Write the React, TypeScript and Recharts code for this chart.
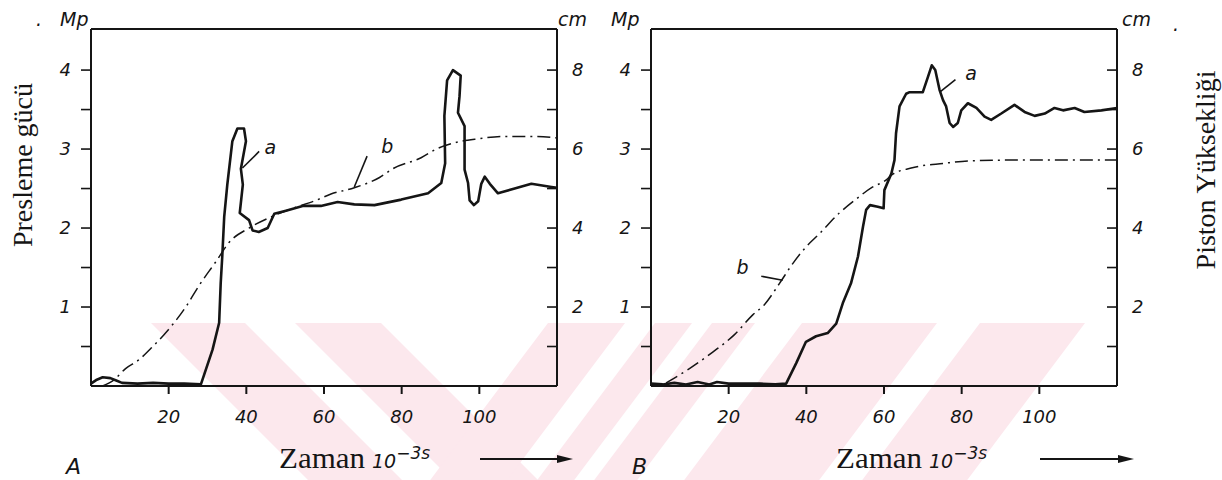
import { LineChart, Line, XAxis, YAxis, ReferenceLine, ReferenceDot } from 'recharts';

const INK = '#151515';
const SANS = "'DejaVu Sans', sans-serif";
const SERIF = "'Liberation Serif', 'Times New Roman', serif";

// Panel A: curve a = pressing force (Mp), curve b = piston height (cm)
const timeAa = [0, 1.5, 3, 5, 6.5, 8, 12, 16, 20, 24, 28.3, 31.3, 33, 33.4, 33.8, 34.3, 35.1, 36.4, 37.7, 39.4, 39.9, 38.6, 39.1, 38.3, 40.7, 41.6, 43.2, 45.5, 47.2, 50.2, 54.5, 59.2, 63.5, 67.8, 73, 79.9, 86.8, 90.2, 91.2, 91, 91.7, 93.2, 95.2, 94.9, 94.5, 96.2, 96.2, 97.1, 97.5, 98.6, 99.7, 100.5, 101.4, 102.7, 104.8, 109.1, 113.4, 118.6, 120];
const forceA = [0.03, 0.08, 0.11, 0.1, 0.07, 0.04, 0.03, 0.04, 0.03, 0.03, 0.02, 0.46, 0.8, 1.3, 1.64, 2.14, 2.55, 3.1, 3.26, 3.26, 3.1, 2.75, 2.55, 2.19, 2.1, 1.97, 1.95, 2.0, 2.18, 2.22, 2.28, 2.28, 2.33, 2.3, 2.29, 2.36, 2.44, 2.57, 2.82, 3.42, 3.87, 4.0, 3.93, 3.67, 3.46, 3.29, 2.74, 2.57, 2.35, 2.29, 2.34, 2.56, 2.65, 2.56, 2.44, 2.5, 2.56, 2.52, 2.51];
const timeAb = [3, 6, 8.9, 12.3, 15.5, 18.8, 24.4, 27.8, 32.1, 35.6, 40.7, 46.8, 52, 57.9, 61.8, 67.8, 74.3, 77.7, 85, 88.9, 93.6, 99.7, 106.5, 114.3, 120];
const heightA = [0, 0.16, 0.44, 0.66, 0.96, 1.3, 2.0, 2.54, 3.14, 3.64, 4.0, 4.3, 4.5, 4.7, 4.86, 5.02, 5.28, 5.5, 5.78, 6.0, 6.16, 6.26, 6.32, 6.32, 6.28];

// Panel B
const timeBa = [0, 3, 6, 9, 12, 15, 17, 20, 24, 28, 32, 34.8, 37.4, 39.9, 42.5, 45.5, 47.7, 49.4, 51.5, 53.3, 54.6, 55.4, 56.4, 58.4, 59.9, 60.1, 61.9, 62.7, 63.1, 64, 65.7, 66.6, 70, 71.3, 72.3, 73.2, 74.3, 75.2, 76, 76.9, 77.8, 79, 79.9, 81.6, 83.8, 85.9, 87.6, 90.2, 93.6, 96.2, 98.8, 101.4, 103.9, 106.1, 109.1, 111.6, 116, 120];
const forceB = [0.03, 0.02, 0.04, 0.02, 0.05, 0.02, 0.05, 0.03, 0.03, 0.03, 0.02, 0.03, 0.29, 0.56, 0.63, 0.67, 0.79, 1.05, 1.3, 1.64, 2.02, 2.23, 2.29, 2.27, 2.25, 2.48, 2.69, 2.86, 3.2, 3.54, 3.7, 3.72, 3.72, 3.91, 4.06, 4.0, 3.75, 3.62, 3.54, 3.33, 3.28, 3.33, 3.49, 3.58, 3.52, 3.41, 3.37, 3.45, 3.56, 3.47, 3.42, 3.45, 3.52, 3.49, 3.52, 3.47, 3.49, 3.52];
const timeBb = [3.9, 9.9, 15.9, 21.5, 26.2, 29.2, 33.1, 36.5, 39.9, 43.4, 48.5, 52.4, 57.1, 60.6, 61.9, 67, 75.6, 81.6, 91.9, 107.4, 120];
const heightB = [0.08, 0.44, 0.86, 1.3, 1.8, 2.06, 2.6, 3.1, 3.52, 3.86, 4.38, 4.7, 5.04, 5.22, 5.34, 5.52, 5.64, 5.7, 5.72, 5.72, 5.72];

const timeTicks = [20, 40, 60, 80, 100];
const forceTicks = [0.5, 1, 1.5, 2, 2.5, 3, 3.5, 4];
const heightTicks = [1, 2, 3, 4, 5, 6, 7, 8];

// curve labels: leader line [t1, mp1, t2, mp2] and text position [t, mp]
const notesA = [
  { text: 'a', seg: [39, 2.76, 43.3, 2.97], at: [46.2, 3.02] },
  { text: 'b', seg: [67.8, 2.52, 71.1, 2.91], at: [76.3, 3.04] },
];
const notesB = [
  { text: 'a', seg: [74.6, 3.73, 78.4, 3.88], at: [82.4, 3.96] },
  { text: 'b', seg: [28.4, 1.39, 33.9, 1.34], at: [23.6, 1.5] },
];

const MP_MAX = 4.52;
const CM_MAX = 9.04;

const zip = (ts: number[], vs: number[]) => ts.map((t, i) => ({ t, v: vs[i] }));

function ForceTick({ x, y, payload }: any) {
  const ax = x + 10;
  const v = payload.value;
  return (
    <g>
      <line x1={ax - 10} x2={ax} y1={y} y2={y} stroke={INK} strokeWidth={1.6} />
      {Number.isInteger(v) && (
        <text x={ax - 20} y={y + 6} textAnchor="end" fill={INK} fontSize={18} fontStyle="italic" fontFamily={SANS}>
          {v}
        </text>
      )}
    </g>
  );
}

function HeightTick({ x, y, payload }: any) {
  const ax = x - 10;
  const v = payload.value;
  return (
    <g>
      <line x1={ax - 10} x2={ax} y1={y} y2={y} stroke={INK} strokeWidth={1.6} />
      {v % 2 === 0 && (
        <text x={ax + 15} y={y + 6} textAnchor="start" fill={INK} fontSize={18} fontStyle="italic" fontFamily={SANS}>
          {v}
        </text>
      )}
    </g>
  );
}

function Panel({ left, force, height, notes }: any) {
  return (
    <div style={{ position: 'absolute', left, top: 0 }}>
      <LineChart width={566} height={450} margin={{ top: 29, right: 0, bottom: 0, left: 0 }}>
        <XAxis
          xAxisId="t"
          dataKey="t"
          type="number"
          domain={[0, 120]}
          ticks={timeTicks}
          height={64}
          stroke={INK}
          strokeWidth={2}
          tickSize={8}
          tickMargin={16}
          tick={{ fill: INK, fontSize: 18, fontStyle: 'italic', fontFamily: SANS }}
        />
        <YAxis
          yAxisId="mp"
          type="number"
          domain={[0, MP_MAX]}
          ticks={forceTicks}
          width={50}
          stroke={INK}
          strokeWidth={2}
          tickSize={10}
          tickMargin={0}
          tickLine={false}
          tick={<ForceTick />}
        />
        <YAxis
          yAxisId="cm"
          orientation="right"
          type="number"
          domain={[0, CM_MAX]}
          ticks={heightTicks}
          width={50}
          stroke={INK}
          strokeWidth={2}
          tickSize={10}
          tickMargin={0}
          tickLine={false}
          tick={<HeightTick />}
        />
        <ReferenceLine xAxisId="t" yAxisId="mp" y={MP_MAX} stroke={INK} strokeWidth={2} />
        <Line
          xAxisId="t"
          yAxisId="cm"
          data={height}
          dataKey="v"
          type="monotone"
          stroke={INK}
          strokeWidth={1.5}
          strokeDasharray="13 5 2 5"
          dot={false}
          isAnimationActive={false}
        />
        <Line
          xAxisId="t"
          yAxisId="mp"
          data={force}
          dataKey="v"
          type="linear"
          stroke={INK}
          strokeWidth={2.6}
          strokeLinejoin="round"
          dot={false}
          isAnimationActive={false}
        />
        {notes.map((n: any) => (
          <ReferenceLine
            key={'l' + n.text}
            xAxisId="t"
            yAxisId="mp"
            segment={[{ x: n.seg[0], y: n.seg[1] }, { x: n.seg[2], y: n.seg[3] }]}
            stroke={INK}
            strokeWidth={1.6}
          />
        ))}
        {notes.map((n: any) => (
          <ReferenceDot
            key={'d' + n.text}
            xAxisId="t"
            yAxisId="mp"
            x={n.at[0]}
            y={n.at[1]}
            r={0}
            fill="none"
            stroke="none"
            label={{ value: n.text, position: 'center', fill: INK, fontSize: 19, fontStyle: 'italic', fontFamily: SANS }}
          />
        ))}
      </LineChart>
    </div>
  );
}

// faint diagonal watermark band of the scanned page
const WM_TOP = 323;
const WM_BOTTOM = 480;
const back = [[151, 245], [295, 381]];
const fwd = [[548, 625], [655, 692], [712, 755], [802, 937], [980, 1085]];

function Watermark() {
  const dy = WM_BOTTOM - WM_TOP;
  return (
    <g fill="#fce8ed">
      {back.map(([a, b]) => (
        <polygon key={'b' + a} points={`${a},${WM_TOP} ${b},${WM_TOP} ${b + dy * 1.0},${WM_BOTTOM} ${a + dy * 1.0},${WM_BOTTOM}`} />
      ))}
      {fwd.map(([a, b]) => (
        <polygon key={'f' + a} points={`${a},${WM_TOP} ${b},${WM_TOP} ${b - dy * 0.75},${WM_BOTTOM} ${a - dy * 0.75},${WM_BOTTOM}`} />
      ))}
    </g>
  );
}

function TimeLabel({ x, arrowFrom, arrowTo }: { x: number; arrowFrom: number; arrowTo: number }) {
  return (
    <g fill={INK}>
      <text x={x} y={468} fontSize={30} fontFamily={SERIF} textLength={86} lengthAdjust="spacingAndGlyphs">
        Zaman
      </text>
      <text x={x + 93} y={468} fontSize={19} fontStyle="italic" fontFamily={SANS}>
        10
        <tspan dy={-9} fontSize={17}>−3s</tspan>
      </text>
      <line x1={arrowFrom} x2={arrowTo - 12} y1={459} y2={459} stroke={INK} strokeWidth={2} />
      <polygon points={`${arrowTo - 16},${455} ${arrowTo},${459} ${arrowTo - 16},${463}`} />
    </g>
  );
}

export default function App() {
  return (
    <div style={{ position: 'absolute', left: 0, top: 0, width: 1222, height: 480, background: '#fff', overflow: 'hidden' }}>
      <svg width={1222} height={480} style={{ position: 'absolute', left: 0, top: 0 }}>
        <Watermark />
        <g fill={INK} fontFamily={SANS} fontStyle="italic" fontSize={19}>
          <text x={36} y={26}>.</text>
          <text x={60} y={26}>Mp</text>
          <text x={558} y={26}>cm</text>
          <text x={611} y={26}>Mp</text>
          <text x={1122} y={26}>cm</text>
          <text x={1173} y={31}>.</text>
          <text x={66} y={474} fontSize={22}>A</text>
          <text x={632} y={474} fontSize={22}>B</text>
        </g>
        <text
          x={22}
          y={165}
          transform="rotate(-90 22 165)"
          textAnchor="middle"
          dominantBaseline="central"
          fontSize={28}
          fontFamily={SERIF}
          fill={INK}
        >
          Presleme gücü
        </text>
        <text
          x={1205}
          y={170}
          transform="rotate(-90 1205 170)"
          textAnchor="middle"
          dominantBaseline="central"
          fontSize={28}
          fontFamily={SERIF}
          fill={INK}
        >
          Piston Yüksekliği
        </text>
        <TimeLabel x={279} arrowFrom={480} arrowTo={573} />
        <TimeLabel x={836} arrowFrom={1040} arrowTo={1134} />
      </svg>
      <Panel left={41} force={zip(timeAa, forceA)} height={zip(timeAb, heightA)} notes={notesA} />
      <Panel left={601} force={zip(timeBa, forceB)} height={zip(timeBb, heightB)} notes={notesB} />
    </div>
  );
}
